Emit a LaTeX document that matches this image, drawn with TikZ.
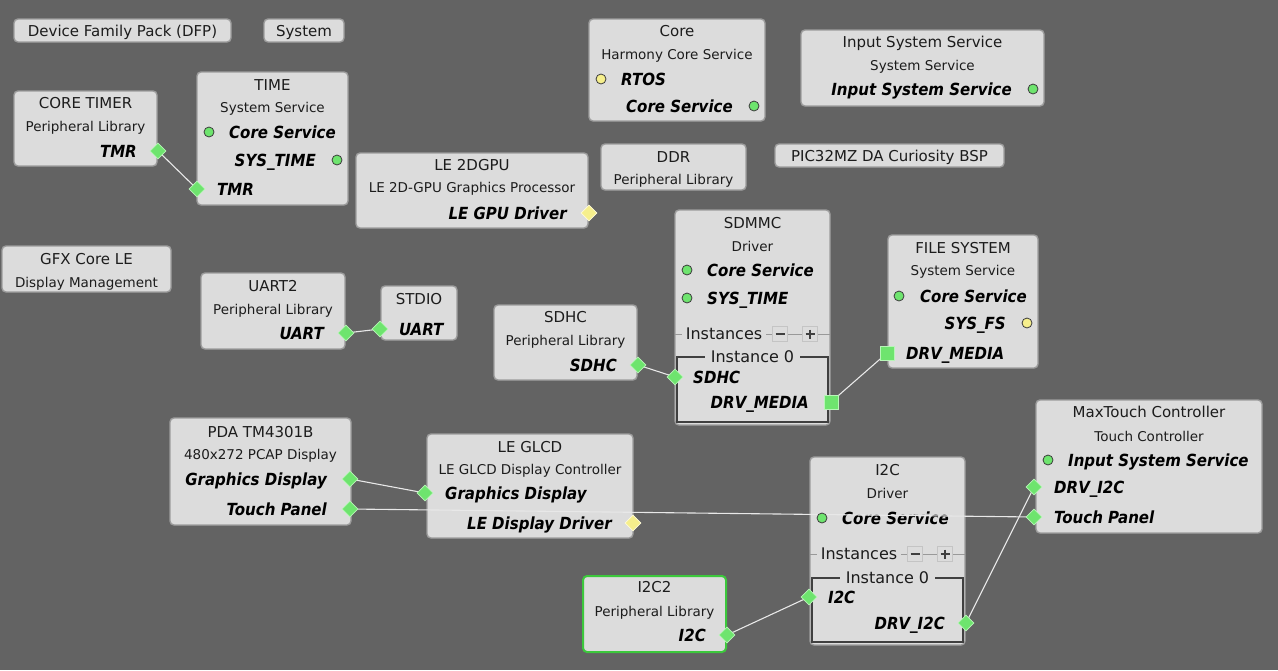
\documentclass[tikz,border=0pt]{standalone}
\usepackage{fontspec}
\setmainfont{DejaVu Sans}
\newfontfamily\portfam{DejaVu Sans Condensed}
\usetikzlibrary{shapes.geometric}
\definecolor{bgc}{HTML}{636363}
\definecolor{boxfill}{HTML}{DCDCDC}
\definecolor{boxline}{HTML}{9C9C9C}
\definecolor{txt}{HTML}{1C1C1C}
\definecolor{pgreen}{HTML}{6EE46E}
\definecolor{pgreenl}{HTML}{B8F5B8}
\definecolor{pyellow}{HTML}{F6EF8C}
\definecolor{pyellowl}{HTML}{FFFBD8}
\definecolor{circline}{HTML}{3C3C3C}
\definecolor{wirec}{HTML}{E8E8E8}
\definecolor{selgreen}{HTML}{3CC83C}
\definecolor{instc}{HTML}{999999}
\definecolor{framec}{HTML}{404040}
\definecolor{pmline}{HTML}{C4C4C4}
\pgfdeclarelayer{back}
\pgfdeclarelayer{bg}
\pgfdeclarelayer{wires}
\pgfsetlayers{back,bg,wires,main}
\newcommand\ttlf{\fontsize{15}{18}\selectfont}
\newcommand\subf{\fontsize{13.5}{16}\selectfont}
\newcommand\instf{\fontsize{16}{19}\selectfont}
\newcommand\portf{\portfam\bfseries\itshape\fontsize{16.7}{20}\selectfont}
\newcommand\blk[6][]{\node[box,#1,minimum width={#5-#3},minimum height={#6-#4}] (#2) at ({(#3+#5)/2},{(#4+#6)/2}) {};}
% name, left, right, y
\newcommand\instrow[4]{%
  \draw[instline] (#2,#4) -- (#3,#4);
  \node[insttxt,inner xsep=4pt] (#1-it) at (#2+49,#4) {Instances};
  \node[pmbox] (#1-minus) at (#2+105,#4) {};
  \node[pmbox] (#1-plus) at (#2+135,#4) {};
  \draw[pmsym] (#1-minus.center) ++(-4.5,0) -- ++(9,0);
  \draw[pmsym] (#1-plus.center) ++(-4.5,0) -- ++(9,0);
  \draw[pmsym] (#1-plus.center) ++(0,-4.5) -- ++(0,9);
}
% name, left, top, right, bottom
\newcommand\instframe[5]{%
  \draw[framel] (#2,#3) rectangle (#4,#5);
  \node[insttxt,inner xsep=6pt] (#1-i0) at ({(#2+#4)/2},#3) {Instance 0};
}
\begin{document}
\begin{tikzpicture}[x=1pt,y=-1pt,
  box/.style={draw=boxline,fill=boxfill,rounded corners=4pt,line width=1.4pt,inner sep=0pt,outer sep=0pt},
  ttl/.style={font=\ttlf,text=txt,inner sep=0pt,anchor=base,yshift=-5.5pt},
  sub/.style={font=\subf,text=txt,inner sep=0pt,anchor=base,yshift=-4.9pt},
  portl/.style={font=\portf,text=black,inner sep=0pt,anchor=base west,yshift=-6.1pt},
  portr/.style={font=\portf,text=black,inner sep=0pt,anchor=base east,yshift=-6.1pt},
  gcirc/.style={circle,draw=circline,fill=pgreen,minimum size=10pt,inner sep=0pt,line width=0.8pt},
  ycirc/.style={circle,draw=circline,fill=pyellow,minimum size=10pt,inner sep=0pt,line width=0.8pt},
  gdia/.style={diamond,draw=pgreenl,fill=pgreen,minimum width=16pt,minimum height=16pt,inner sep=0pt,line width=0.8pt},
  ydia/.style={diamond,draw=pyellowl,fill=pyellow,minimum width=16pt,minimum height=16pt,inner sep=0pt,line width=0.8pt},
  gsq/.style={rectangle,draw=pgreenl,fill=pgreen,minimum size=14pt,inner sep=0pt,line width=0.8pt},
  wire/.style={draw=wirec,line width=1.1pt},
  instline/.style={draw=instc,line width=1pt},
  insttxt/.style={font=\instf,text=txt,fill=boxfill,inner ysep=0pt},
  pmbox/.style={rectangle,draw=pmline,fill=boxfill,minimum size=15pt,inner sep=0pt,line width=1.2pt},
  pmsym/.style={draw=framec,line width=1.8pt},
  framel/.style={draw=framec,line width=1.1pt}
]
\useasboundingbox (0,0) rectangle (1278,670);
\begin{pgfonlayer}{back}
\fill[bgc] (0,0) rectangle (1278,670);
\end{pgfonlayer}

\begin{pgfonlayer}{bg}
% --- top row
\blk{dfp}{14}{19}{231}{42}
\node[ttl] (dfp-t) at (122.5,31) {Device Family Pack (DFP)};
\blk{sys}{264}{19}{344}{42}
\node[ttl] (sys-t) at (304,31) {System};
\blk{core}{589}{19}{765}{121}
\node[ttl] (core-t) at (677,31) {Core};
\node[sub] (core-s) at (677,55) {Harmony Core Service};
\node[portl] (core-p1) at (621,79) {RTOS};
\node[portr] (core-p2) at (733,106) {Core Service};
\blk{iss}{801}{30}{1044}{106}
\node[ttl] (iss-t) at (922.5,42) {Input System Service};
\node[sub] (iss-s) at (922.5,66) {System Service};
\node[portr] (iss-p1) at (1012,89) {Input System Service};
% --- core timer / time
\blk{ct}{14}{91}{157}{166}
\node[ttl] (ct-t) at (85.5,103) {CORE TIMER};
\node[sub] (ct-s) at (85.5,127) {Peripheral Library};
\node[portr] (ct-p1) at (137,151) {TMR};
\blk{time}{197}{72}{348}{205}
\node[ttl] (time-t) at (272.5,85) {TIME};
\node[sub] (time-s) at (272.5,108) {System Service};
\node[portl] (time-p1) at (229,132) {Core Service};
\node[portr] (time-p2) at (316,160) {SYS\_TIME};
\node[portl] (time-p3) at (217,189) {TMR};
% --- gpu, ddr, bsp
\blk{gpu}{356}{153}{588}{228}
\node[ttl] (gpu-t) at (472,165) {LE 2DGPU};
\node[sub] (gpu-s) at (472,188) {LE 2D-GPU Graphics Processor};
\node[portr] (gpu-p1) at (567,213) {LE GPU Driver};
\blk{ddr}{601}{144}{746}{190}
\node[ttl] (ddr-t) at (673.5,157) {DDR};
\node[sub] (ddr-s) at (673.5,180) {Peripheral Library};
\blk{bsp}{775}{144}{1004}{167}
\node[ttl] (bsp-t) at (889.5,156) {PIC32MZ DA Curiosity BSP};
% --- gfx, uart, stdio
\blk{gfx}{2}{246}{171}{292}
\node[ttl] (gfx-t) at (86.5,259) {GFX Core LE};
\node[sub] (gfx-s) at (86.5,283) {Display Management};
\blk{uart}{201}{273}{345}{349}
\node[ttl] (uart-t) at (273,286) {UART2};
\node[sub] (uart-s) at (273,310) {Peripheral Library};
\node[portr] (uart-p1) at (324,333) {UART};
\blk{stdio}{381}{286}{457}{340}
\node[ttl] (stdio-t) at (419,299) {STDIO};
\node[portl] (stdio-p1) at (399,329) {UART};
% --- sdhc, sdmmc, file system
\blk{sdhc}{494}{305}{637}{380}
\node[ttl] (sdhc-t) at (565.5,317) {SDHC};
\node[sub] (sdhc-s) at (565.5,341) {Peripheral Library};
\node[portr] (sdhc-p1) at (617,365) {SDHC};
\blk{sdmmc}{675}{210}{830}{425}
\node[ttl] (sdmmc-t) at (752.5,223) {SDMMC};
\node[sub] (sdmmc-s) at (752.5,247) {Driver};
\node[portl] (sdmmc-p1) at (707,270) {Core Service};
\node[portl] (sdmmc-p2) at (707,298) {SYS\_TIME};
\instrow{sdmmc}{675}{830}{334}
\instframe{sdmmc}{677}{357}{828}{422}
\node[portl] (sdmmc-p3) at (693,377) {SDHC};
\node[portr] (sdmmc-p4) at (809,402) {DRV\_MEDIA};
\blk{fs}{888}{235}{1038}{368}
\node[ttl] (fs-t) at (963,248) {FILE SYSTEM};
\node[sub] (fs-s) at (963,271) {System Service};
\node[portl] (fs-p1) at (920,296) {Core Service};
\node[portr] (fs-p2) at (1006,323) {SYS\_FS};
\node[portl] (fs-p3) at (906,353) {DRV\_MEDIA};
% --- pda, glcd
\blk{pda}{170}{418}{351}{525}
\node[ttl] (pda-t) at (260.5,432) {PDA TM4301B};
\node[sub] (pda-s) at (260.5,455) {480x272 PCAP Display};
\node[portr] (pda-p1) at (327,479) {Graphics Display};
\node[portr] (pda-p2) at (327,509) {Touch Panel};
\blk{glcd}{427}{434}{633}{538}
\node[ttl] (glcd-t) at (530,447) {LE GLCD};
\node[sub] (glcd-s) at (530,470) {LE GLCD Display Controller};
\node[portl] (glcd-p1) at (445,493) {Graphics Display};
\node[portr] (glcd-p2) at (612,523) {LE Display Driver};
% --- i2c, maxtouch, i2c2
\blk{i2c}{810}{457}{965}{645}
\node[ttl] (i2c-t) at (887.5,470) {I2C};
\node[sub] (i2c-s) at (887.5,494) {Driver};
\node[portl] (i2c-p1) at (842,518) {Core Service};
\instrow{i2c}{810}{965}{554}
\instframe{i2c}{812}{578}{963}{642}
\node[portl] (i2c-p2) at (828,597) {I2C};
\node[portr] (i2c-p3) at (945,623) {DRV\_I2C};
\blk{mt}{1036}{400}{1262}{533}
\node[ttl] (mt-t) at (1149,412) {MaxTouch Controller};
\node[sub] (mt-s) at (1149,437) {Touch Controller};
\node[portl] (mt-p1) at (1068,460) {Input System Service};
\node[portl] (mt-p2) at (1054,487) {DRV\_I2C};
\node[portl] (mt-p3) at (1054,517) {Touch Panel};
\blk[draw=selgreen,line width=2pt]{i2ctwo}{583}{576}{726}{652}
\node[ttl] (i2ctwo-t) at (654.5,587) {I2C2};
\node[sub] (i2ctwo-s) at (654.5,612) {Peripheral Library};
\node[portr] (i2ctwo-p1) at (706,635) {I2C};
\end{pgfonlayer}

% --- port markers
\node[ycirc] (core-m1) at (601,79) {};
\node[gcirc] (core-m2) at (754,106) {};
\node[gcirc] (iss-m1) at (1033,89) {};
\node[gdia] (ct-m1) at (158,151) {};
\node[gcirc] (time-m1) at (209,132) {};
\node[gcirc] (time-m2) at (337,160) {};
\node[gdia] (time-m3) at (197,189) {};
\node[ydia] (gpu-m1) at (589,213) {};
\node[gdia] (uart-m1) at (346,333) {};
\node[gdia] (stdio-m1) at (380,329) {};
\node[gdia] (sdhc-m1) at (638,365) {};
\node[gcirc] (sdmmc-m1) at (687,270) {};
\node[gcirc] (sdmmc-m2) at (687,298) {};
\node[gdia] (sdmmc-m3) at (675,377) {};
\node[gsq] (sdmmc-m4) at (831,402) {};
\node[gcirc] (fs-m1) at (899,296) {};
\node[ycirc] (fs-m2) at (1027,323) {};
\node[gsq] (fs-m3) at (887,353) {};
\node[gdia] (pda-m1) at (350,479) {};
\node[gdia] (pda-m2) at (350,509) {};
\node[gdia] (glcd-m1) at (425,493) {};
\node[ydia] (glcd-m2) at (633,523) {};
\node[gcirc] (i2c-m1) at (822,518) {};
\node[gdia] (i2c-m2) at (809,597) {};
\node[gdia] (i2c-m3) at (966,623) {};
\node[gcirc] (mt-m1) at (1048,460) {};
\node[gdia] (mt-m2) at (1034,487) {};
\node[gdia] (mt-m3) at (1034,517) {};
\node[gdia] (i2ctwo-m1) at (727,635) {};

% --- connectors
\begin{pgfonlayer}{wires}
\draw[wire] (ct-m1.center) -- (time-m3.center);
\draw[wire] (uart-m1.center) -- (stdio-m1.center);
\draw[wire] (sdhc-m1.center) -- (sdmmc-m3.center);
\draw[wire] (sdmmc-m4.center) -- (fs-m3.center);
\draw[wire] (pda-m1.center) -- (glcd-m1.center);
\draw[wire] (pda-m2.center) -- (mt-m3.center);
\draw[wire] (i2ctwo-m1.center) -- (i2c-m2.center);
\draw[wire] (i2c-m3.center) -- (mt-m2.center);
\end{pgfonlayer}
\end{tikzpicture}
\end{document}
